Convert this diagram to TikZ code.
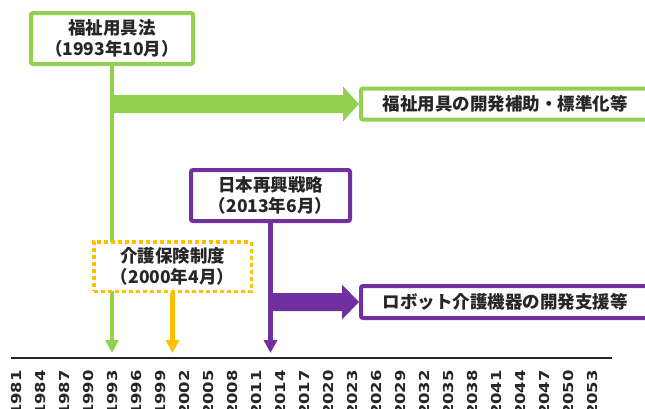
\documentclass[tikz,border=0pt]{standalone}
\usepackage{fontspec}
\newfontfamily\jp{Noto Sans CJK JP}
\newfontfamily\yr{DejaVu Sans}
\usetikzlibrary{arrows.meta,calc}
\definecolor{gr}{HTML}{92D050}
\definecolor{og}{HTML}{FFC000}
\definecolor{pu}{HTML}{7030A0}
\definecolor{tx}{HTML}{262626}
\begin{document}
\begin{tikzpicture}[x=1pt,y=-1pt,
  box/.style={draw, fill=white, line width=4pt, rounded corners=2pt, text=tx,
    font=\jp\bfseries\fontsize{17.5}{21.5}\selectfont, align=center, inner sep=0pt},
  vline/.style={line width=4.3pt, -{Triangle[width=13pt,length=13pt]}},
  yrlab/.style={rotate=90, anchor=east, inner sep=0pt, text=tx,
    font=\yr\bfseries\fontsize{13.7}{14}\selectfont}]
\useasboundingbox (0,0) rectangle (645,408);
\fill[white] (0,0) rectangle (645,408);
\coordinate (tipline) at (0,353);
\coordinate (axL) at (11,358);
\coordinate (axR) at (612,358);

% boxes
\node[box, draw=gr, minimum width=162pt, minimum height=51pt] (law) at (112,38.5) {福祉用具法\\（1993年10月）};
\node[box, draw=gr, minimum width=288pt, minimum height=31pt, anchor=west] (aid) at (359,104) {福祉用具の開発補助・標準化等};
\node[box, draw=pu, minimum width=159pt, minimum height=51pt] (jrs) at (270.5,195.5) {日本再興戦略\\（2013年6月）};
\node[box, draw=pu, minimum width=288pt, minimum height=32pt, anchor=west] (robot) at (359,302) {ロボット介護機器の開発支援等};

% green
\draw[gr, vline] (law.south) -- (law.south |- tipline);
\fill[gr] ($(law.south |- aid.west)+(-2,-9)$) -- ($(aid.west)+(-16,-9)$) -- ($(aid.west)+(-16,-17.5)$) -- (aid.west)
  -- ($(aid.west)+(-16,17.5)$) -- ($(aid.west)+(-16,9)$) -- ($(law.south |- aid.west)+(-2,9)$) -- cycle;

% purple
\draw[pu, vline] (jrs.south) -- (jrs.south |- tipline);
\fill[pu] ($(jrs.south |- robot.west)+(-2,-9)$) -- ($(robot.west)+(-17,-9)$) -- ($(robot.west)+(-17,-17.5)$) -- (robot.west)
  -- ($(robot.west)+(-17,17.5)$) -- ($(robot.west)+(-17,9)$) -- ($(jrs.south |- robot.west)+(-2,9)$) -- cycle;

% orange dotted box
\node[box, draw=og, rounded corners=0pt, line width=3.5pt, dash pattern=on 4pt off 3pt,
  minimum width=157.5pt, minimum height=49.5pt] (ins) at (172.5,266.5) {介護保険制度\\（2000年4月）};
\draw[og, vline] (ins.south) -- (ins.south |- tipline);

% axis
\draw[tx, line width=1.3pt] (axL) -- (axR);
\foreach \i in {0,...,24} {
  \pgfmathtruncatemacro\yy{1981+3*\i}
  \node[yrlab] (y\i) at (16.5+24*\i,370) {\scalebox{1.2}[1]{\yy}};
}
\end{tikzpicture}
\end{document}
